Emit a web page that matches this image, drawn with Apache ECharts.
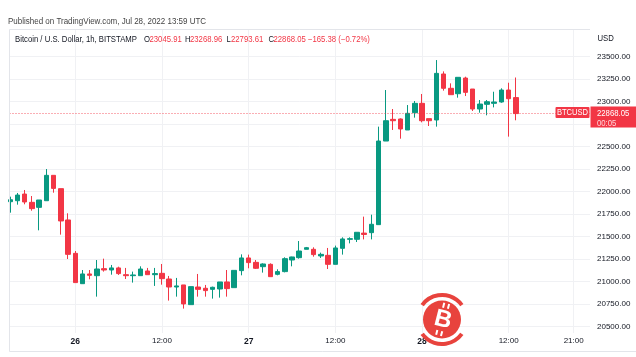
<!DOCTYPE html>
<html><head><meta charset="utf-8">
<script src="https://cdn.jsdelivr.net/npm/echarts@6/dist/echarts.min.js"></script>
<style>html,body{margin:0;padding:0;background:#fff}#c{width:636px;height:357px}</style>
</head><body><div id="c"></div>
<script>
// hour offsets relative to 26 Jul 2022 00:00 UTC; first candle = 25 Jul 15:00
const firstHour = -9;
const opens  = [21889,21900,21974,21882,21826,21900,22182,22034,21686,21315,
                20978,21086,21067,21145,21130,21153,21078,21067,21067,21119,
                21078,21093,21030,20941,20964,20745,20941,20927,20915,20919,
                20997,20934,21123,21264,21215,21167,21193,21082,21112,21241,
                21267,21360,21360,21286,21293,21193,21371,21471,21471,21540,
                21545,21634,22563,22804,22808,22686,22878,22982,22812,22797,
                23308,23149,23089,23263,23141,22919,22971,22982,22997,23130,
                23045.91];
const closes = [21911,21963,21886,21812,21908,22182,22037,21675,21304,20990,
                21086,21071,21141,21130,21153,21090,21067,21075,21141,21078,
                21090,21034,20941,20953,20753,20945,20915,20901,20938,20997,
                20923,21126,21264,21212,21149,21197,21056,21112,21256,21275,
                21341,21378,21301,21304,21193,21375,21475,21478,21549,21525,
                21638,22563,22789,22789,22697,22871,22982,22789,22789,23315,
                23149,23078,23271,23104,22919,22974,23000,22997,23130,23033.43,
                22868.05];
const lows   = [21767,21856,21860,21789,21571,21900,21989,21523,21252,20990,
                20978,21027,20834,21112,21078,21075,21030,20990,21067,21078,
                20953,20967,20790,20834,20701,20745,20834,20834,20812,20823,
                20834,20934,21071,21149,21141,21101,21056,21071,21104,21171,
                21256,21360,21278,21264,21141,21193,21301,21426,21441,21470,
                21470,21634,22563,22686,22589,22686,22823,22771,22730,22723,
                23123,23078,23045,23063,22897,22878,22849,22937,22989,22612,
                22793.61];
const highs  = [21945,21986,22019,21952,21908,22252,22182,22034,21760,21341,
                21130,21130,21241,21256,21186,21167,21153,21112,21171,21153,
                21153,21197,21064,21042,20964,20945,21086,20964,20945,20997,
                21130,21126,21304,21301,21241,21204,21204,21138,21271,21278,
                21452,21386,21382,21323,21375,21401,21493,21493,21549,21723,
                21745,22723,23130,22919,22815,22963,23008,23086,22812,23463,
                23337,23204,23271,23278,23141,23019,23019,23111,23149,23211,
                23268.96];
const xTickHours  = [0, 12, 24, 36, 48, 60, 69];
const xTickLabels = ['26', '12:00', '27', '12:00', '28', '12:00', '21:00'];
const yTicks = [20500,20750,21000,21250,21500,21750,22000,22250,22500,22750,23000,23250,23500];
const publishedText = 'Published on TradingView.com, Jul 28, 2022 13:59 UTC';
const symbolTitle = 'Bitcoin / U.S. Dollar, 1h, BITSTAMP';
const tickerName = 'BTCUSD';
const countdown = '00:05';
const currency = 'USD';

const GREEN = '#089981', RED = '#f23645';
const FONT = '"Liberation Sans", Arial, sans-serif';
const TEXT = '#131722';

const candles = opens.map((o, i) => [firstHour + i, o, closes[i], lows[i], highs[i]]);
const n = opens.length;
const lastO = opens[n-1], lastH = highs[n-1], lastL = lows[n-1], lastC = closes[n-1];
const prevC = closes[n-2];
const chg = lastC - prevC;
const pct = chg / prevC * 100;
const fmtSigned = v => (v < 0 ? '\u2212' : '+') + Math.abs(v).toFixed(2);

const chart = echarts.init(document.getElementById('c'), null, {renderer: 'canvas'});
chart.setOption({
  animation: false,
  backgroundColor: '#ffffff',
  grid: {left: 9.5, right: 46, top: 29, bottom: 24, containLabel: false, outerBoundsMode: 'none'},
  xAxis: {
    type: 'value', min: -9.11, max: 71.26, scale: true,
    axisLine: {show: false},
    axisTick: {show: false, customValues: xTickHours},
    splitLine: {show: true, lineStyle: {color: '#f0f1f4', width: 1}},
    axisLabel: {
      customValues: xTickHours, margin: 4, fontSize: 8, fontFamily: FONT, color: TEXT,
      formatter: v => {
        const lab = xTickLabels[xTickHours.indexOf(v)];
        return lab.indexOf(':') < 0 ? '{b|' + lab + '}' : lab;
      },
      rich: {b: {fontWeight: 'bold', fontSize: 8.5, fontFamily: FONT, color: TEXT}}
    }
  },
  yAxis: {
    type: 'value', position: 'right', min: 20430, max: 23808, scale: true,
    axisLine: {show: false},
    axisTick: {show: false, customValues: yTicks},
    splitLine: {show: true, lineStyle: {color: '#f0f1f4', width: 1}},
    axisLabel: {customValues: yTicks, margin: 7, fontSize: 8, fontFamily: FONT, color: TEXT,
      formatter: v => v.toFixed(2)}
  },
  series: [{
    type: 'candlestick',
    data: candles,
    encode: {x: 0, y: [1, 2, 3, 4]},
    barWidth: 5,
    itemStyle: {color: GREEN, color0: RED, borderColor: GREEN, borderColor0: RED, borderWidth: 1},
    markLine: {
      silent: true, symbol: 'none',
      label: {show: false},
      lineStyle: {color: RED, type: [1, 2], width: 1, opacity: 0.8},
      data: [{yAxis: lastC}]
    }
  }]
});

const py = chart.convertToPixel({yAxisIndex: 0}, lastC);
const txt = (x, y, s, color, align, sx) => ({
  type: 'text', x: x, y: y, z: 100, scaleX: sx || 0.91,
  style: {text: s, fill: color, fontSize: 8.5, fontFamily: FONT, verticalAlign: 'middle', align: align || 'left'}
});
const line = (x1, y1, x2, y2, c) => ({type: 'line', z: 90, shape: {x1, y1, x2, y2}, style: {stroke: c, lineWidth: 1}});
const LOGO = '#e8433d';
const g = [
  line(9.5, 29.5, 590, 29.5, '#e3e5ea'),
  line(9.5, 29.5, 9.5, 351.5, '#e3e5ea'),
  line(9.5, 351.5, 636, 351.5, '#e3e5ea'),
  txt(8, 21.5, publishedText, '#444', 'left', 0.94),
  txt(15, 39.5, symbolTitle, TEXT),
  txt(144, 39.5, 'O', TEXT), txt(149.5, 39.5, lastO.toFixed(2), RED),
  txt(185, 39.5, 'H', TEXT), txt(190, 39.5, lastH.toFixed(2), RED),
  txt(226.5, 39.5, 'L', TEXT), txt(231, 39.5, lastL.toFixed(2), RED),
  txt(268.5, 39.5, 'C', TEXT), txt(273.5, 39.5, lastC.toFixed(2), RED),
  txt(308, 39.5, fmtSigned(chg) + ' (' + fmtSigned(pct) + '%)', RED),
  txt(597.5, 39, currency, TEXT),
  {type: 'rect', z: 95, shape: {x: 555.5, y: py - 6.5, width: 34, height: 11, r: 1}, style: {fill: RED}},
  txt(572.5, py - 1, tickerName, '#ffffff', 'center', 0.89),
  {type: 'rect', z: 95, shape: {x: 590.5, y: py - 7, width: 46, height: 21}, style: {fill: RED}},
  txt(597, py + 0.5, lastC.toFixed(2), '#ffffff'),
  txt(597, py + 10, countdown, '#ffd6da'),
  // watermark logo
  {type: 'circle', z: 120, shape: {cx: 442, cy: 319.5, r: 19}, style: {fill: LOGO}},
  {type: 'arc', z: 120, shape: {cx: 442, cy: 319.5, r: 24.5, startAngle: Math.PI * 1.2, endAngle: Math.PI * 1.8}, style: {stroke: LOGO, lineWidth: 4, fill: null}},
  {type: 'arc', z: 120, shape: {cx: 442, cy: 319.5, r: 24.5, startAngle: Math.PI * 0.2, endAngle: Math.PI * 0.8}, style: {stroke: LOGO, lineWidth: 4, fill: null}},
  {type: 'text', z: 121, x: 443, y: 320, rotation: -0.25,
   style: {text: 'B', fill: '#fff', fontSize: 24, fontWeight: 'bold', fontFamily: FONT, align: 'center', verticalAlign: 'middle'}},
  {type: 'rect', z: 121, x: 443, y: 320, rotation: -0.25, shape: {x: -4, y: -17, width: 2, height: 5}, style: {fill: '#fff'}},
  {type: 'rect', z: 121, x: 443, y: 320, rotation: -0.25, shape: {x: 1, y: -17, width: 2, height: 5}, style: {fill: '#fff'}},
  {type: 'rect', z: 121, x: 443, y: 320, rotation: -0.25, shape: {x: -4, y: 11, width: 2, height: 5}, style: {fill: '#fff'}},
  {type: 'rect', z: 121, x: 443, y: 320, rotation: -0.25, shape: {x: 1, y: 11, width: 2, height: 5}, style: {fill: '#fff'}}
];
chart.setOption({graphic: g});
</script>
</body></html>
